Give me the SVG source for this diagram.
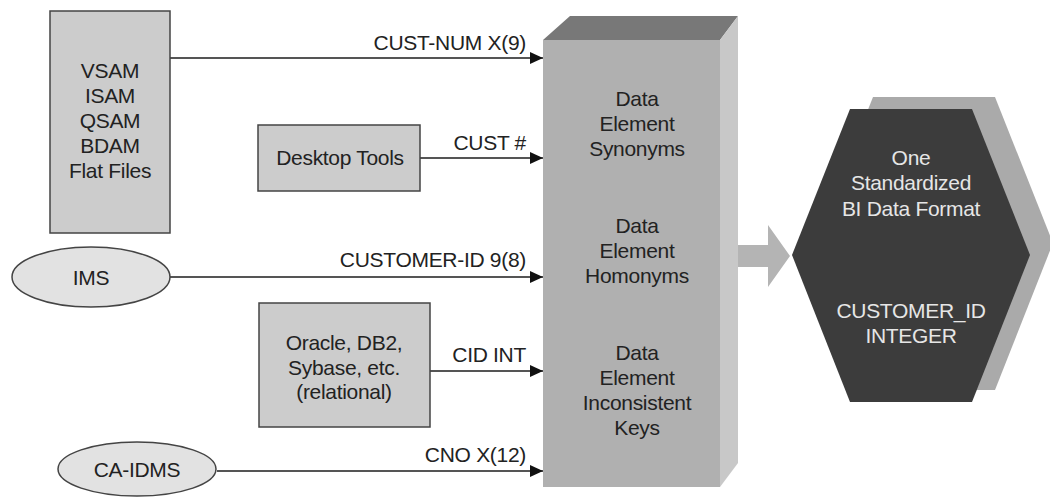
<svg xmlns="http://www.w3.org/2000/svg" width="1050" height="497" viewBox="0 0 1050 497">
<defs>
<marker id="ah" markerUnits="userSpaceOnUse" markerWidth="14" markerHeight="14" refX="13" refY="7" orient="auto">
<path d="M0,1 L13,7 L0,13 Z" fill="#111"/>
</marker>
<style>
text{font-family:"Liberation Sans",Arial,sans-serif;font-size:21px;letter-spacing:-0.3px;fill:#222}
.c{text-anchor:middle}
.r{text-anchor:end}
.box{fill:#cccccc;stroke:#444;stroke-width:1.5}
.ell{fill:#e2e2e2;stroke:#444;stroke-width:1.5}
.ln{fill:none;stroke:#555;stroke-width:2;marker-end:url(#ah)}
.w{fill:#e6e6e6}
</style>
</defs>
<rect width="1050" height="497" fill="#fff"/>

<g id="connectors">
<path class="ln" d="M170,58 H543"/>
<path class="ln" d="M420,158 H543"/>
<path class="ln" d="M170,277 H543"/>
<path class="ln" d="M430,371 H543"/>
<path class="ln" d="M217,471 H543"/>
<text class="r" x="526" y="50">CUST-NUM X(9)</text>
<text class="r" x="526" y="150">CUST #</text>
<text class="r" x="526" y="267">CUSTOMER-ID 9(8)</text>
<text class="r" x="526" y="362">CID INT</text>
<text class="r" x="526" y="462">CNO X(12)</text>
<path d="M737,245 H768 V225 L790,256 L768,287 V267 H737 Z" fill="#b4b4b4"/>
</g>

<g id="vsam">
<rect class="box" x="50" y="11" width="120" height="222"/>
<text class="c" x="110" y="78">VSAM</text>
<text class="c" x="110" y="103">ISAM</text>
<text class="c" x="110" y="128">QSAM</text>
<text class="c" x="110" y="153">BDAM</text>
<text class="c" x="110" y="178">Flat Files</text>
</g>

<g id="desktop">
<rect class="box" x="258" y="125" width="162" height="66"/>
<text class="c" x="340" y="165">Desktop Tools</text>
</g>

<g id="ims">
<ellipse class="ell" cx="91" cy="277" rx="79" ry="30"/>
<text class="c" x="91" y="285">IMS</text>
</g>

<g id="relational">
<rect class="box" x="259" y="303" width="171" height="124"/>
<text class="c" x="344" y="350">Oracle, DB2,</text>
<text class="c" x="344" y="375">Sybase, etc.</text>
<text class="c" x="344" y="399">(relational)</text>
</g>

<g id="caidms">
<ellipse class="ell" cx="137" cy="469" rx="79" ry="27"/>
<text class="c" x="137" y="477">CA-IDMS</text>
</g>

<g id="hub">
<polygon points="543,40 570,16 738,16 720,40" fill="#787878"/>
<polygon points="720,40 738,16 738,463 720,487" fill="#c8c8c8"/>
<rect x="543" y="40" width="177" height="447" fill="#b0b0b0"/>
<text class="c" x="637" y="106">Data</text>
<text class="c" x="637" y="131">Element</text>
<text class="c" x="637" y="156">Synonyms</text>
<text class="c" x="637" y="233">Data</text>
<text class="c" x="637" y="258">Element</text>
<text class="c" x="637" y="283">Homonyms</text>
<text class="c" x="637" y="360">Data</text>
<text class="c" x="637" y="385">Element</text>
<text class="c" x="637" y="410">Inconsistent</text>
<text class="c" x="637" y="435">Keys</text>
</g>

<g id="standard">
<polygon points="815,243 873,97 995,97 1053,243 995,390 873,390" fill="#aaaaaa"/>
<polygon points="792,255 850,109 972,109 1030,255 972,402 850,402" fill="#3c3c3c"/>
<text class="c w" x="911" y="165">One</text>
<text class="c w" x="911" y="190">Standardized</text>
<text class="c w" x="911" y="216">BI Data Format</text>
<text class="c w" x="911" y="318">CUSTOMER_ID</text>
<text class="c w" x="911" y="343">INTEGER</text>
</g>
</svg>
